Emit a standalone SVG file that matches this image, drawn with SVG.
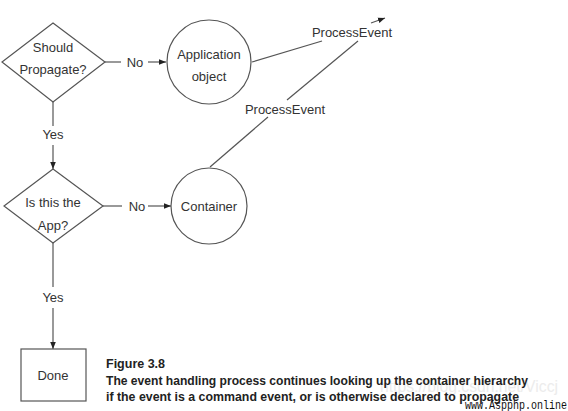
<svg xmlns="http://www.w3.org/2000/svg" width="568" height="411" viewBox="0 0 568 411">
<style>
.shape{fill:#fff;stroke:#555;stroke-width:1.2}
.ln{fill:none;stroke:#555;stroke-width:1.2}
.t{font-family:"Liberation Sans",Arial,sans-serif;font-size:13px;fill:#333;text-anchor:middle}
.cap{font-family:"Liberation Sans",Arial,sans-serif;font-size:12.5px;font-weight:bold;fill:#222}
</style>
<defs>
<marker id="ah" viewBox="0 0 10 10" refX="10" refY="5" markerWidth="7" markerHeight="7" markerUnits="userSpaceOnUse" orient="auto">
<path d="M0,1 L10,5 L0,9 z" fill="#222"/>
</marker>
</defs>
<rect width="568" height="411" fill="#fff"/>
<g id="connectors">
<line class="ln" x1="105" y1="62" x2="121" y2="62"/>
<text class="t" x="135" y="67">No</text>
<line class="ln" x1="148" y1="62" x2="166" y2="62" marker-end="url(#ah)"/>
<line class="ln" x1="53" y1="102" x2="53" y2="126"/>
<text class="t" x="53" y="139">Yes</text>
<line class="ln" x1="53" y1="145" x2="53" y2="169" marker-end="url(#ah)"/>
<line class="ln" x1="103" y1="206" x2="122" y2="206"/>
<text class="t" x="137" y="211">No</text>
<line class="ln" x1="148" y1="206" x2="171" y2="206" marker-end="url(#ah)"/>
<line class="ln" x1="53" y1="243" x2="53" y2="287"/>
<text class="t" x="53" y="302">Yes</text>
<line class="ln" x1="53" y1="308" x2="53" y2="349" marker-end="url(#ah)"/>
<line class="ln" x1="252" y1="62" x2="322" y2="41"/>
<text class="t" x="352" y="37">ProcessEvent</text>
<line class="ln" x1="371" y1="23" x2="385" y2="18" marker-end="url(#ah)"/>
<line class="ln" x1="210" y1="167" x2="268" y2="117"/>
<text class="t" x="285" y="114">ProcessEvent</text>
<line class="ln" x1="287" y1="100" x2="358" y2="41"/>
</g>
<g id="should-propagate">
<polygon class="shape" points="53,23 105,62 53,102 2,62"/>
<text class="t" x="53" y="52">Should</text>
<text class="t" x="53" y="74">Propagate?</text>
</g>
<g id="application-object">
<circle class="shape" cx="209" cy="62" r="42"/>
<text class="t" x="209" y="59">Application</text>
<text class="t" x="209" y="81">object</text>
</g>
<g id="is-this-the-app">
<polygon class="shape" points="53,169 103,206 53,243 4,206"/>
<text class="t" x="53" y="207">Is this the</text>
<text class="t" x="53" y="230">App?</text>
</g>
<g id="container">
<circle class="shape" cx="209" cy="206" r="38"/>
<text class="t" x="209" y="211">Container</text>
</g>
<g id="done">
<rect class="shape" x="21" y="349" width="65" height="52"/>
<text class="t" x="53" y="380">Done</text>
</g>
<g id="caption">
<text x="380" y="392" font-family="'Liberation Sans',Arial,sans-serif" font-size="17" fill="#ececec" textLength="178" lengthAdjust="spacingAndGlyphs">https://blog.csdn.net/Viccj</text>
<text class="cap" x="106" y="368">Figure 3.8</text>
<text class="cap" x="106" y="385" textLength="422" lengthAdjust="spacingAndGlyphs">The event handling process continues looking up the container hierarchy</text>
<text class="cap" x="106" y="401" textLength="413" lengthAdjust="spacingAndGlyphs">if the event is a command event, or is otherwise declared to propagate</text>
<text x="465" y="409" font-family="'Liberation Mono','DejaVu Sans Mono',monospace" font-size="12.5" fill="#111" textLength="102" lengthAdjust="spacingAndGlyphs">www.Aspphp.online</text>
</g>
</svg>
